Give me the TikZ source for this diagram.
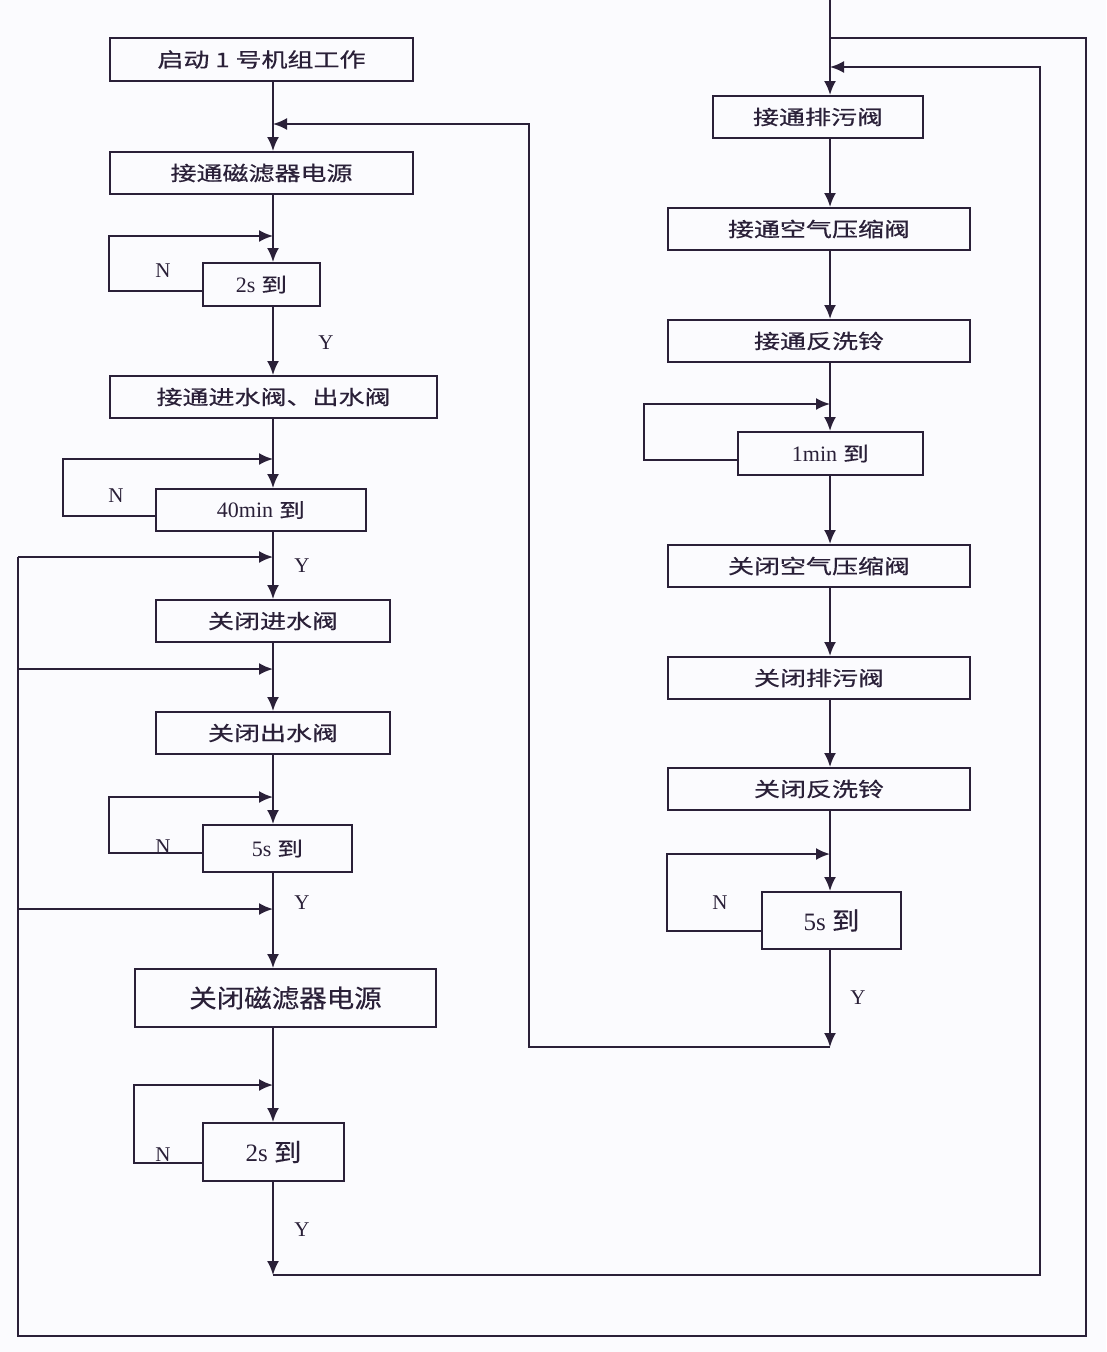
\documentclass[tikz,border=0pt]{standalone}
\usepackage{fontspec}
\setmainfont{Liberation Serif}
\newfontfamily\cjk[FakeStretch=1.3,FakeBold=0.6]{Noto Sans CJK SC}
\newfontfamily\cjkb[FakeStretch=1.1,FakeBold=0.4]{Noto Sans CJK SC}
\newcommand{\lat}[1]{{\rmfamily\fontsize{22}{24}\selectfont #1}}
\usetikzlibrary{arrows.meta}
\definecolor{ink}{RGB}{42,32,56}
\definecolor{bg}{RGB}{251,251,254}
\begin{document}
\begin{tikzpicture}[x=1pt,y=-1pt,
  box/.style={draw=ink, line width=2pt, rectangle, inner sep=0pt, text=ink, font=\cjk\fontsize{20}{24}\selectfont},
  bigbox/.style={box, font=\cjkb\fontsize{25}{30}\selectfont},
  conn/.style={draw=ink, line width=2pt},
  arr/.style={conn, -{Latex[length=14pt,width=12pt]}},
  lbl/.style={text=ink, font=\fontsize{21}{24}\selectfont, inner sep=0pt}
]
\fill[bg] (0,0) rectangle (1106,1352);
\useasboundingbox (0,0) rectangle (1106,1352);

% guide coordinates
\coordinate (Lx) at (273,0);
\coordinate (Rx) at (830,0);

% left column
\node[box, minimum width=303pt, minimum height=43pt] (A) at (261.5,59.5) {启动 1 号机组工作};
\node[box, minimum width=303pt, minimum height=42pt] (B) at (261.5,173) {接通磁滤器电源};
\node[box, minimum width=117pt, minimum height=43pt] (C) at (261.5,284.5) {\lat{2s} 到};
\node[box, minimum width=327pt, minimum height=42pt] (D) at (273.5,397) {接通进水阀、出水阀};
\node[box, minimum width=210pt, minimum height=42pt] (E) at (261,510) {\lat{40min} 到};
\node[box, minimum width=234pt, minimum height=42pt] (F) at (273,621) {关闭进水阀};
\node[box, minimum width=234pt, minimum height=42pt] (G) at (273,733) {关闭出水阀};
\node[box, minimum width=149pt, minimum height=47pt] (H) at (277.5,848.5) {\lat{5s} 到};
\node[bigbox, minimum width=301pt, minimum height=58pt] (I) at (285.5,998) {关闭磁滤器电源};
\node[bigbox, minimum width=141pt, minimum height=58pt] (J) at (273.5,1152) {{\rmfamily 2s} 到};

% right column
\node[box, minimum width=210pt, minimum height=42pt] (K) at (818,117) {接通排污阀};
\node[box, minimum width=302pt, minimum height=42pt] (L) at (819,229) {接通空气压缩阀};
\node[box, minimum width=302pt, minimum height=42pt] (M) at (819,341) {接通反洗铃};
\node[box, minimum width=185pt, minimum height=43pt] (N1) at (830.5,453.5) {\lat{1min} 到};
\node[box, minimum width=302pt, minimum height=42pt] (O) at (819,566) {关闭空气压缩阀};
\node[box, minimum width=302pt, minimum height=42pt] (P) at (819,678) {关闭排污阀};
\node[box, minimum width=302pt, minimum height=42pt] (Q) at (819,789) {关闭反洗铃};
\node[bigbox, minimum width=139pt, minimum height=57pt] (R) at (831.5,920.5) {{\rmfamily 5s} 到};

% junction coordinates
\coordinate (j1) at (273,124);
\coordinate (jC) at (273,236);
\coordinate (jE) at (273,459);
\coordinate (jF) at (273,557);
\coordinate (jG) at (273,669);
\coordinate (jH) at (273,797);
\coordinate (jI) at (273,909);
\coordinate (jJ) at (273,1085);
\coordinate (endL) at (273,1275);
\coordinate (top) at (830,0);
\coordinate (jT) at (830,38);
\coordinate (jK) at (830,67);
\coordinate (jN) at (830,404);
\coordinate (jR) at (830,854);
\coordinate (endR) at (830,1047);

% left main flow
\draw[arr] (A.south -| Lx) -- (B.north -| Lx);
\draw[arr] (B.south -| Lx) -- (C.north -| Lx);
\draw[arr] (C.south -| Lx) -- (D.north -| Lx);
\draw[arr] (D.south -| Lx) -- (E.north -| Lx);
\draw[arr] (E.south -| Lx) -- (F.north -| Lx);
\draw[arr] (F.south -| Lx) -- (G.north -| Lx);
\draw[arr] (G.south -| Lx) -- (H.north -| Lx);
\draw[arr] (H.south -| Lx) -- (I.north -| Lx);
\draw[arr] (I.south -| Lx) -- (J.north -| Lx);
\draw[arr] (J.south -| Lx) -- (endL);

% left wait loops
\draw[arr] ([yshift=-6.5pt]C.west) -- ++(-93,0) |- (jC);
\draw[arr] ([yshift=-6pt]E.west) -- ++(-92,0) |- (jE);
\draw[arr] ([yshift=-4.5pt]H.west) -- ++(-93,0) |- (jH);
\draw[arr] ([yshift=-11pt]J.west) -- ++(-68,0) |- (jJ);

% right main flow
\draw[arr] (top) -- (K.north -| Rx);
\draw[arr] (K.south -| Rx) -- (L.north -| Rx);
\draw[arr] (L.south -| Rx) -- (M.north -| Rx);
\draw[arr] (M.south -| Rx) -- (N1.north -| Rx);
\draw[arr] (N1.south -| Rx) -- (O.north -| Rx);
\draw[arr] (O.south -| Rx) -- (P.north -| Rx);
\draw[arr] (P.south -| Rx) -- (Q.north -| Rx);
\draw[arr] (Q.south -| Rx) -- (R.north -| Rx);
\draw[arr] (R.south -| Rx) -- (endR);

% right wait loops
\draw[arr] ([yshift=-6.5pt]N1.west) -- ++(-93,0) |- (jN);
\draw[arr] ([yshift=-10.5pt]R.west) -- ++(-94,0) |- (jR);

% return from right column to left
\draw[arr] (endR) -- (529,1047) -- (529,124) -- (j1);
% return from left column to right
\draw[arr] (endL) -- (1040,1275) -- (1040,67) -- (jK);
% outer loop
\draw[conn] (jT) -- (1086,38) -- (1086,1336) -- (18,1336) -- (18,557);
\draw[arr] (18,557) -- (jF);
\draw[arr] (18,669) -- (jG);
\draw[arr] (18,909) -- (jI);

% labels
\node[lbl] (n1) at (163,271) {N};
\node[lbl] (y1) at (326,343) {Y};
\node[lbl] (n2) at (116,496) {N};
\node[lbl] (y2) at (302,566) {Y};
\node[lbl] (n3) at (163,847) {N};
\node[lbl] (y3) at (302,903) {Y};
\node[lbl] (n4) at (163,1155) {N};
\node[lbl] (y4) at (302,1230) {Y};
\node[lbl] (n5) at (720,903) {N};
\node[lbl] (y5) at (858,998) {Y};
\end{tikzpicture}
\end{document}
